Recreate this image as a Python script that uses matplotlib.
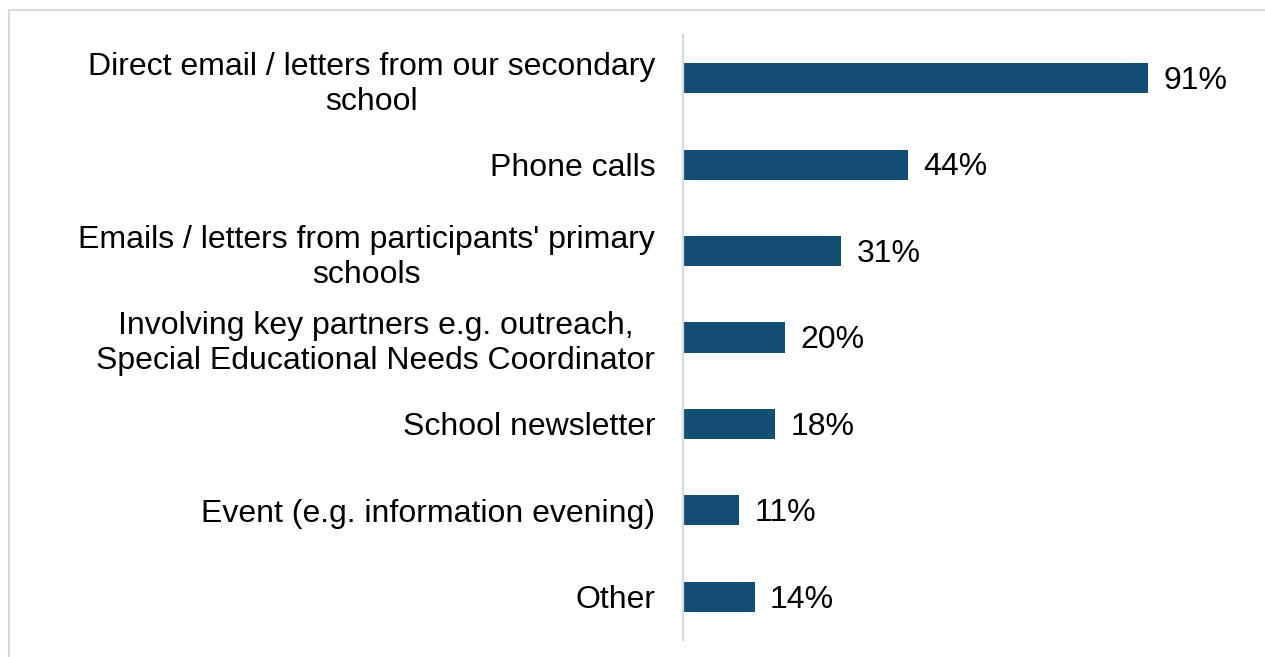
import matplotlib
matplotlib.use("Agg")
import matplotlib.pyplot as plt
from matplotlib.patches import Rectangle

categories = [
    "Direct email / letters from our secondary\nschool",
    "Phone calls",
    "Emails / letters from participants' primary\nschools",
    "Involving key partners e.g. outreach,\nSpecial Educational Needs Coordinator",
    "School newsletter",
    "Event (e.g. information evening)",
    "Other",
]
values = [91, 44, 31, 20, 18, 11, 14]

bar_color = "#134F74"
grey = "#D9D9D9"

plt.rcParams["font.family"] = ["Liberation Sans", "DejaVu Sans"]

fig = plt.figure(figsize=(12.65, 6.57), dpi=100)
ax = fig.add_axes([683 / 1265, 17 / 657, 511 / 1265, 605 / 657])

pos = list(range(len(categories)))
ax.barh(pos, values, height=0.35, color=bar_color)
ax.set_ylim(len(categories) - 0.5, -0.5)
ax.set_xlim(0, 100)

ax.set_yticks(pos)
ax.set_yticklabels(categories, fontsize=23, linespacing=1.22, ha="right",
                   multialignment="center")
ax.tick_params(axis="y", length=0, pad=20)
ax.set_xticks([])

for s in ["top", "right", "bottom"]:
    ax.spines[s].set_visible(False)
ax.spines["left"].set_color(grey)
ax.spines["left"].set_linewidth(1.6)

for p, v in zip(pos, values):
    ax.annotate(f"{v}%", xy=(v, p), xytext=(11, -2), textcoords="offset points",
                va="center", ha="left", fontsize=23, color="black")

# light frame around the chart area
fig.patches.append(Rectangle((9 / 1265, -0.05), 1.1, (647 / 657) + 0.05,
                             transform=fig.transFigure, fill=False,
                             edgecolor=grey, linewidth=1.5))

fig.savefig("out.png", dpi=100)
